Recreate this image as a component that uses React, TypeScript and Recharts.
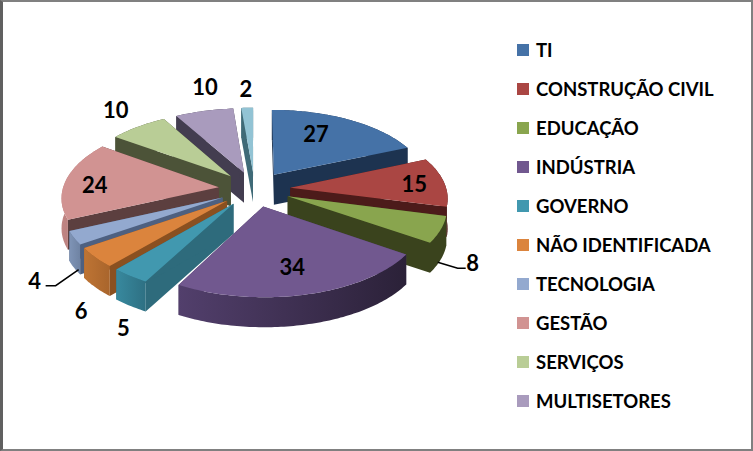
import { Legend, Pie, PieChart } from 'recharts'

const categories = [
  'TI', 'CONSTRUÇÃO CIVIL', 'EDUCAÇÃO', 'INDÚSTRIA', 'GOVERNO', 'NÃO IDENTIFICADA',
  'TECNOLOGIA', 'GESTÃO', 'SERVIÇOS', 'MULTISETORES', 'OUTROS',
]
const values = [27, 15, 8, 34, 5, 6, 4, 24, 10, 10, 2]
const legendCount = 10

const topColors = ['#4572A7', '#AA4643', '#89A54E', '#71588F', '#4198AF', '#DB843D', '#93A9CF', '#D19392', '#B9CD96', '#A99BBD', '#92C3D4']
const sideColors = ['#1D3350', '#4C1B1A', '#3A431D', '#4A3A60', '#2E6B7C', '#8A5020', '#4E6080', '#5C3F3F', '#4C5338', '#433D50', '#3F6A77']
const rimFrom = ['#1D3350', '#4C1B1A', '#3A431D', '#523F6C', '#38899E', '#BE7434', '#7F94B6', '#C08583', '#4C5338', '#433D50', '#3F6A77']
const rimTo = ['#1D3350', '#4C1B1A', '#3A431D', '#2B2138', '#2E7083', '#A9652C', '#6F83A3', '#A87070', '#4C5338', '#433D50', '#3F6A77']

// back to front, so nearer slices paint over the walls behind them
const drawOrder = [10, 0, 9, 8, 1, 7, 2, 6, 5, 4, 3]

// label spot relative to the slice's apex, in px
const labelOffsets = [
  [42, -41], [124, -4], [185, 66], [29, 60], [-110, 124], [-146, 110],
  [-188, 83], [-124, -3], [-115, -67], [-39, -86], [-7, -84],
]
const leaders: Record<number, number[][]> = {
  2: [[150, 66], [170, 72], [178, 72]],
  6: [[-144, 72], [-167, 88], [-177, 88]],
}

const rows = categories.map((name, i) => ({ name, value: values[i] }))

const EXPLODE = 36
const WALL = 30
const TILT = 0.485
const PERSPECTIVE = 0.118

const rad = (deg: number) => (deg * Math.PI) / 180

function project(cx: number, cy: number, R: number, u: number, v: number) {
  const s = 1 / (1 - (PERSPECTIVE * v) / R)
  return { x: cx + u * s, y: cy + TILT * v * s }
}

function apexOf(cx: number, cy: number, R: number, midAngle: number) {
  return project(cx, cy, R, EXPLODE * Math.cos(rad(midAngle)), -EXPLODE * Math.sin(rad(midAngle)))
}

const pts = (list: { x: number; y: number }[], dy = 0) =>
  list.map((p) => `${p.x.toFixed(1)},${(p.y + dy).toFixed(1)}`).join(' ')

function Slice(props: any) {
  const { cx, cy, outerRadius: R, startAngle, endAngle, midAngle, index } = props
  const ou = EXPLODE * Math.cos(rad(midAngle))
  const ov = -EXPLODE * Math.sin(rad(midAngle))
  const apex = project(cx, cy, R, ou, ov)
  const arc: { x: number; y: number }[] = []
  const steps = Math.max(2, Math.ceil(Math.abs(endAngle - startAngle)))
  for (let k = 0; k <= steps; k++) {
    const a = rad(startAngle + ((endAngle - startAngle) * k) / steps)
    arc.push(project(cx, cy, R, ou + R * Math.cos(a), ov - R * Math.sin(a)))
  }
  const first = arc[0]
  const last = arc[arc.length - 1]
  const side = sideColors[index]
  return (
    <g>
      <polygon points={pts([apex, first]) + ' ' + pts([first, apex], WALL)} fill={side} />
      <polygon points={pts([apex, last]) + ' ' + pts([last, apex], WALL)} fill={side} />
      <polygon points={pts(arc) + ' ' + pts([...arc].reverse(), WALL)} fill={`url(#rim${index})`} />
      <polygon points={pts([apex, ...arc])} fill={topColors[index]} />
    </g>
  )
}

function SliceLabel(props: any) {
  const { cx, cy, outerRadius, midAngle, index, value } = props
  const apex = apexOf(cx, cy, outerRadius, midAngle)
  const [dx, dy] = labelOffsets[index]
  const line = leaders[index]
  return (
    <g>
      {line && (
        <polyline
          points={line.map(([lx, ly]) => `${apex.x + lx},${apex.y + ly}`).join(' ')}
          fill="none"
          stroke="#000"
          strokeWidth={1.5}
        />
      )}
      <text
        x={apex.x + dx}
        y={apex.y + dy}
        textAnchor="middle"
        dominantBaseline="central"
        fontFamily="Lato"
        fontWeight={700}
        fontSize={22}
        fill="#000"
      >
        {value}
      </text>
    </g>
  )
}

function CategoryLegend() {
  return (
    <div>
      {categories.slice(0, legendCount).map((name, i) => (
        <div key={name} style={{ display: 'flex', alignItems: 'center', height: 39 }}>
          <span style={{ width: 12, height: 12, background: topColors[i], marginRight: 7 }} />
          <span style={{ fontFamily: 'Lato', fontWeight: 700, fontSize: 18.5, color: '#000', whiteSpace: 'nowrap' }}>{name}</span>
        </div>
      ))}
    </div>
  )
}

export default function App() {
  return (
    <div
      style={{
        position: 'absolute',
        left: 0,
        top: 0,
        width: 753,
        height: 451,
        boxSizing: 'border-box',
        background: '#fff',
        borderLeft: '3px solid #606060',
        borderTop: '2px solid #808080',
        borderRight: '2px solid #808080',
        borderBottom: '2px solid #808080',
      }}
    >
      <div style={{ position: 'absolute', left: -3, top: -2 }}>
        <PieChart width={753} height={451} margin={{ top: 0, right: 0, bottom: 0, left: 0 }}>
          <defs>
            {categories.map((name, i) => (
              <linearGradient key={name} id={`rim${i}`} x1="0" y1="0" x2="1" y2="0">
                <stop offset="0" stopColor={rimFrom[i]} />
                <stop offset="1" stopColor={rimTo[i]} />
              </linearGradient>
            ))}
          </defs>
          {drawOrder.map((slice) => (
            <Pie
              key={slice}
              data={rows}
              dataKey="value"
              nameKey="name"
              cx={254.5}
              cy={189}
              outerRadius={156}
              startAngle={90}
              endAngle={-270}
              stroke="none"
              isAnimationActive={false}
              shape={(p: any) => (p.index === slice ? <Slice {...p} /> : <g />)}
            />
          ))}
          <Pie
            data={rows}
            dataKey="value"
            nameKey="name"
            cx={254.5}
            cy={189}
            outerRadius={156}
            startAngle={90}
            endAngle={-270}
            isAnimationActive={false}
            shape={() => <g />}
            label={SliceLabel}
            labelLine={false}
          />
          <Legend
            content={<CategoryLegend />}
            layout="vertical"
            wrapperStyle={{ position: 'absolute', left: 517, top: 30, width: 230 }}
          />
        </PieChart>
      </div>
    </div>
  )
}
